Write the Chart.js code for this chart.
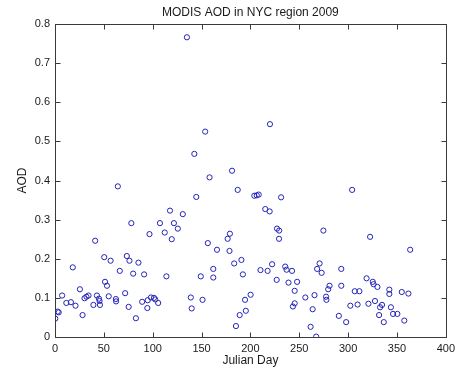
<!DOCTYPE html>
<html>
<head>
<meta charset="utf-8">
<script src="https://cdn.jsdelivr.net/npm/chart.js@4.4.1/dist/chart.umd.min.js"></script>
<style>
html,body{margin:0;padding:0;background:#fff;}
#wrap{width:460px;height:368px;}
</style>
</head>
<body>
<div id="wrap"><canvas id="c" width="460" height="368"></canvas></div>
<script>
const chartTitle = "MODIS AOD in NYC region 2009";
const xTitle = "Julian Day";
const yTitle = "AOD";
const xTicks = [0, 50, 100, 150, 200, 250, 300, 350, 400];
const yTicks = [0, 0.1, 0.2, 0.3, 0.4, 0.5, 0.6, 0.7, 0.8];
const yTickLabels = ["0", "0.1", "0.2", "0.3", "0.4", "0.5", "0.6", "0.7", "0.8"];

const julianDay = [
  0.3, 2.7, 3.8, 7.3, 11.6, 16.3, 18.2, 21, 25.5, 28.2, 30.2, 32.2, 34.3, 39.3, 41.1, 42.9, 45, 45.6, 46, 50.4, 51.2, 53.2, 55, 56.9,
  62.3, 62.5, 64.3, 66.3, 71.8, 73.5, 75.4, 76.2, 78.1, 80, 82.8, 85.4, 89.2, 91.2, 94.5, 94.9, 96.7, 98.2, 101.3, 102.6, 105.6,
  107.4, 112.3, 114, 117.7, 119.5, 121.7, 125.7, 130.8, 135, 139, 139.9, 142.6, 144.6, 149.2, 151, 153.7, 156.4, 158.2, 162, 162, 165.8,
  176.7, 179, 178.6, 181.2, 183.4, 185.2, 187, 189, 190.8, 192.3, 194.5, 195.3, 200.2,
  204, 206.5, 208.5, 210.3, 215.2, 217.6, 219.7, 220, 222.2, 226.9, 227.2, 229.4, 229.3, 231.4, 235.6, 237, 239, 242.6, 243.5, 245.3, 245.3, 247.8,
  256.2, 261.6, 263.7, 265.6, 267.3, 268.3, 270.8, 272.9, 274.7, 277.4, 277.8, 279.6, 281, 290.5, 293, 293, 298,
  302.3, 304.1, 306.8, 309.7, 311.5, 318.9, 320.8, 322.5, 325.2, 326, 327.5, 330, 331.7, 332.7, 334.7, 336.5, 342.2, 342.2, 343.8, 346, 350.4, 354.9, 357.5, 361.7, 363.5
];
const aod = [
  0.047, 0.065, 0.063, 0.106, 0.087, 0.089, 0.178, 0.080, 0.122, 0.056, 0.099, 0.103, 0.106, 0.082, 0.246, 0.106, 0.098, 0.092, 0.082, 0.204, 0.141, 0.131, 0.104, 0.195,
  0.097, 0.091, 0.385, 0.169, 0.112, 0.207, 0.077, 0.195, 0.291, 0.162, 0.048, 0.190, 0.090, 0.160, 0.074, 0.094, 0.263, 0.101, 0.100, 0.096, 0.087,
  0.291, 0.267, 0.155, 0.323, 0.250, 0.291, 0.277, 0.314, 0.766, 0.101, 0.073, 0.468, 0.358, 0.155, 0.095, 0.525, 0.240, 0.408, 0.174, 0.152, 0.223,
  0.251, 0.264, 0.220, 0.425, 0.188, 0.028, 0.376, 0.056, 0.197, 0.160, 0.095, 0.067, 0.108,
  0.361, 0.362, 0.364, 0.171, 0.327, 0.169, 0.321, 0.544, 0.186, 0.146, 0.277, 0.272, 0.251, 0.357, 0.180, 0.172, 0.139, 0.169, 0.078, 0.086, 0.118, 0.141,
  0.101, 0.026, 0.071, 0.107, 0.001, 0.174, 0.188, 0.164, 0.272, 0.103, 0.095, 0.122, 0.131, 0.054, 0.174, 0.131, 0.038,
  0.080, 0.376, 0.117, 0.083, 0.117, 0.150, 0.085, 0.256, 0.141, 0.135, 0.092, 0.128, 0.056, 0.076, 0.082, 0.038, 0.121, 0.110, 0.076, 0.059, 0.059, 0.115, 0.042, 0.111, 0.223
];

const points = julianDay.map((d, i) => ({x: d, y: aod[i]}));
const FONT = "'Liberation Sans', Arial, Helvetica, sans-serif";
const INK = '#1a1a1a';

const boxTicks = {
  id: 'boxTicks',
  afterDraw(chart) {
    const {ctx, chartArea: a, scales: {x, y}} = chart;
    const L = Math.round(a.left) + 0.5, R = Math.round(a.right) + 0.5;
    const T = Math.round(a.top) + 0.5, B = Math.round(a.bottom) + 0.5;
    const len = 5;
    ctx.save();
    ctx.strokeStyle = '#3a3a3a';
    ctx.lineWidth = 1;
    ctx.strokeRect(L, T, R - L, B - T);
    ctx.beginPath();
    xTicks.forEach(v => {
      const px = Math.round(x.getPixelForValue(v)) + 0.5;
      ctx.moveTo(px, B); ctx.lineTo(px, B - len);
      ctx.moveTo(px, T); ctx.lineTo(px, T + len);
    });
    yTicks.forEach(v => {
      const py = Math.round(y.getPixelForValue(v)) + 0.5;
      ctx.moveTo(L, py); ctx.lineTo(L + len, py);
      ctx.moveTo(R, py); ctx.lineTo(R - len, py);
    });
    ctx.stroke();
    ctx.restore();
  }
};

new Chart(document.getElementById('c'), {
  type: 'scatter',
  data: {
    datasets: [{
      label: 'AOD',
      data: points,
      showLine: false,
      pointStyle: 'circle',
      pointRadius: 2.6,
      pointBorderWidth: 1,
      pointBorderColor: 'rgb(35,35,185)',
      pointBackgroundColor: 'rgba(0,0,0,0)',
      pointHoverRadius: 2.6
    }]
  },
  options: {
    responsive: false,
    animation: false,
    events: [],
    layout: {padding: {left: 0, right: 8, top: 0, bottom: 0}},
    plugins: {
      legend: {display: false},
      tooltip: {enabled: false},
      title: {
        display: true,
        text: chartTitle,
        fullSize: false,
        color: INK,
        font: {family: FONT, size: 12, weight: 'normal'},
        padding: {top: 5.3, bottom: 4.3}
      }
    },
    scales: {
      x: {
        type: 'linear',
        min: 0, max: 400,
        afterBuildTicks: s => { s.ticks = xTicks.map(v => ({value: v})); },
        afterFit: s => { s.height = 31; },
        grid: {display: false, drawTicks: false, tickLength: 0},
        border: {display: false},
        ticks: {
          color: INK, padding: 5, maxRotation: 0, autoSkip: false,
          font: {family: FONT, size: 11},
          callback: v => String(v)
        },
        title: {
          display: true, text: xTitle, color: INK,
          font: {family: FONT, size: 12},
          padding: {top: 0, bottom: 0}
        }
      },
      y: {
        type: 'linear',
        min: 0, max: 0.8,
        afterBuildTicks: s => { s.ticks = yTicks.map(v => ({value: v})); },
        afterFit: s => { s.width = 55; },
        grid: {display: false, drawTicks: false, tickLength: 0},
        border: {display: false},
        ticks: {
          color: INK, padding: 5, autoSkip: false,
          font: {family: FONT, size: 11},
          callback: (v, i) => yTickLabels[i]
        },
        title: {
          display: true, text: yTitle, color: INK,
          font: {family: FONT, size: 12},
          padding: {top: 15.3, bottom: 0}
        }
      }
    }
  },
  plugins: [boxTicks]
});
</script>
</body>
</html>
